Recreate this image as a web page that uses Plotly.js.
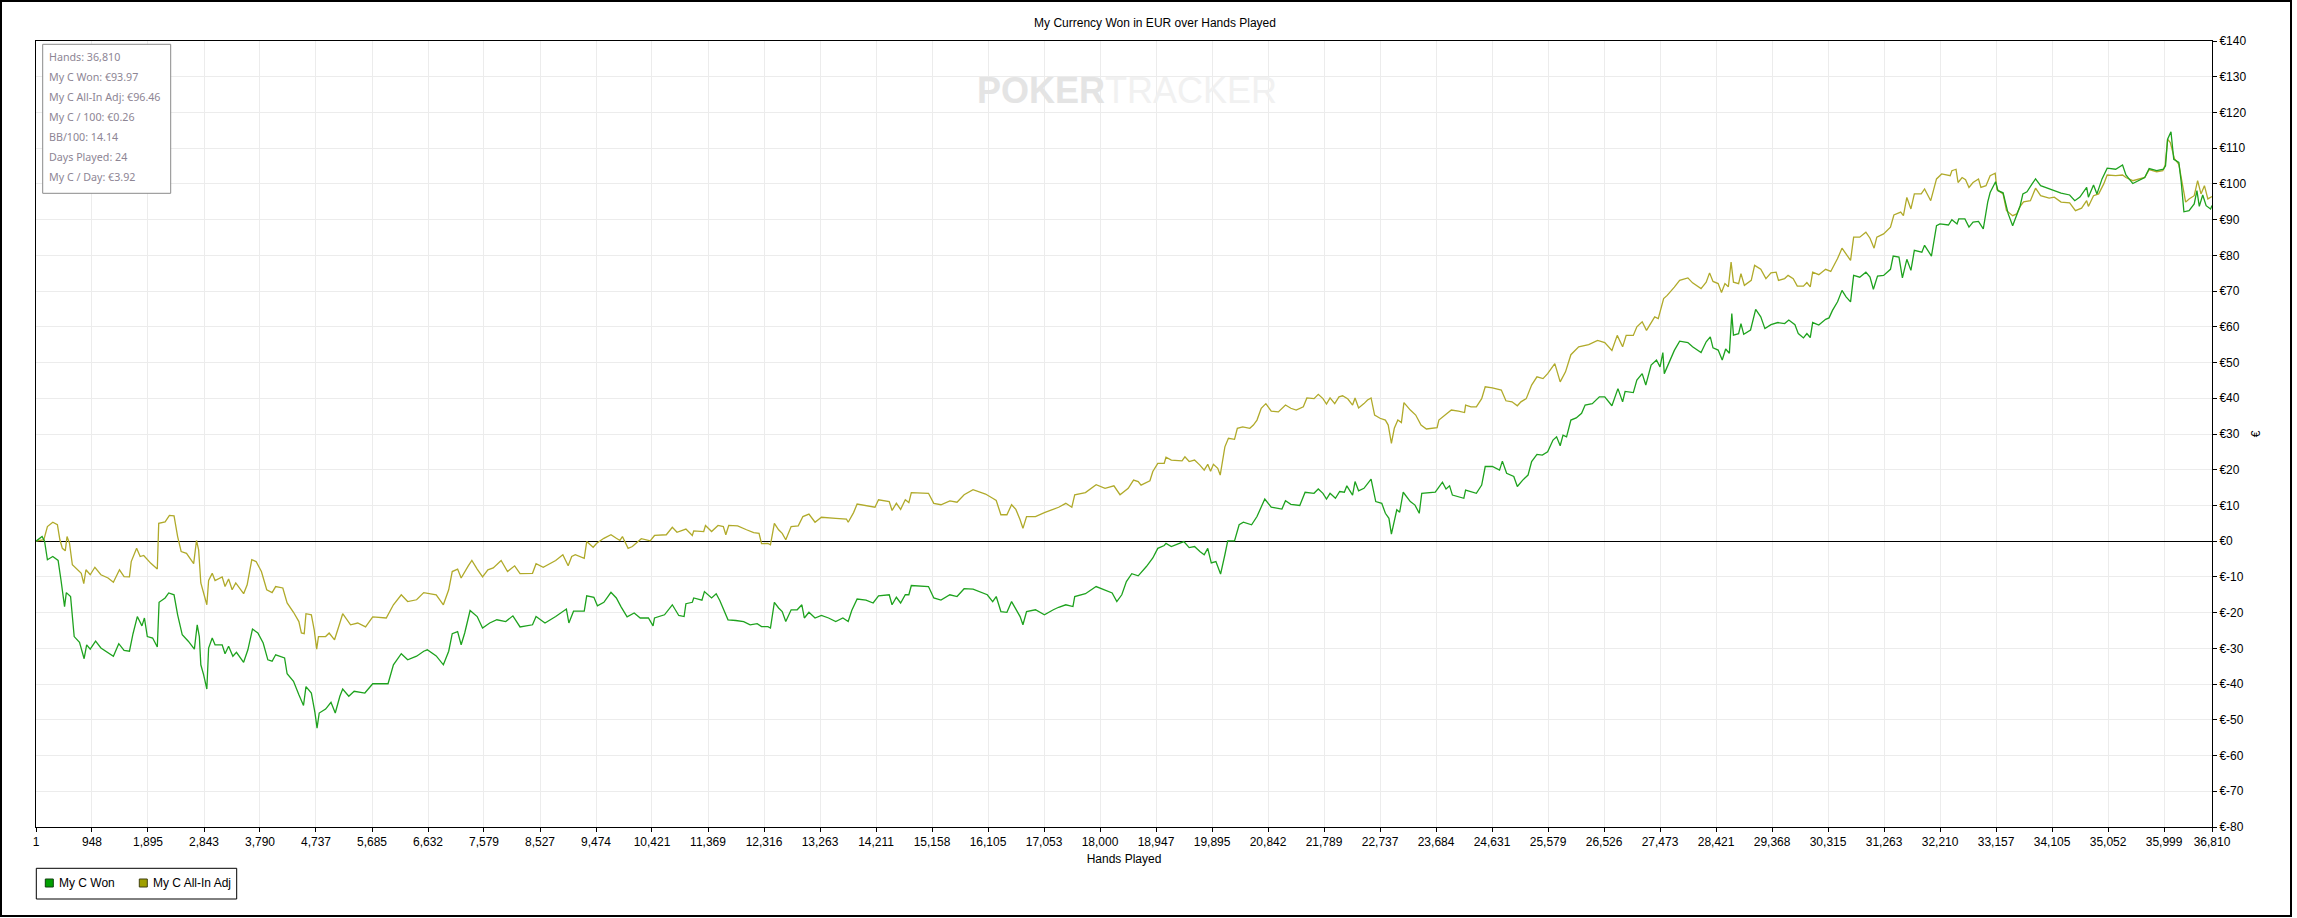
<!DOCTYPE html>
<html><head><meta charset="utf-8">
<script src="https://cdn.plot.ly/plotly-3.0.1.min.js"></script>
<style>
html,body{margin:0;padding:0;background:#fff;}
#wrap{position:relative;width:2297px;height:918px;overflow:hidden;}
#chart{width:2297px;height:918px;}
#frame{position:absolute;left:0;top:0;width:2288px;height:913px;border:2px solid #000;pointer-events:none;}
</style>
</head><body>
<div id="wrap"><div id="chart"></div><div id="frame"></div></div>
<script>
// ---------- DATA ----------
const chartTitle = 'My Currency Won in EUR over Hands Played';
const xTitle = 'Hands Played';
const yTitle = '€';
const seriesNames = ['My C Won', 'My C All-In Adj'];
const statsLines = ['Hands: 36,810','My C Won: €93.97','My C All-In Adj: €96.46','My C / 100: €0.26','BB/100: 14.14','Days Played: 24','My C / Day: €3.92'];
const xTickVals = [1,948,1895,2843,3790,4737,5685,6632,7579,8527,9474,10421,11369,12316,13263,14211,15158,16105,17053,18000,18947,19895,20842,21789,22737,23684,24631,25579,26526,27473,28421,29368,30315,31263,32210,33157,34105,35052,35999,36810];
const yTickVals = [-80,-70,-60,-50,-40,-30,-20,-10,0,10,20,30,40,50,60,70,80,90,100,110,120,130,140];

// My C Won
const wonHands = [1,104,146,164,194,285,375,423,484,514,586,647,737,815,858,918,1009,1099,1220,1310,1401,1491,1582,1642,1715,1793,1835,1884,1974,2053,2083,2185,2246,2336,2397,2475,2577,2680,2728,2764,2789,2837,2891,2921,2982,3030,3150,3199,3259,3331,3392,3513,3585,3663,3754,3844,3923,3995,4055,4206,4249,4357,4448,4526,4568,4659,4719,4755,4792,4900,4991,5063,5141,5189,5292,5383,5564,5697,5956,6047,6180,6288,6439,6560,6620,6771,6892,6982,7042,7133,7193,7253,7344,7464,7555,7676,7797,7947,8068,8189,8400,8460,8611,8792,8973,9015,9094,9275,
9317,9438,9498,9607,9727,9818,9896,10000,10120,10222,10361,10439,10464,10633,10765,10874,10964,10995,11103,11127,11266,11308,11429,11507,11568,11658,11707,11839,11972,12081,12201,12274,12382,12425,12491,12563,12624,12684,12775,12877,12956,12998,13076,13179,13287,13408,13529,13650,13740,13800,13891,14042,14162,14253,14434,14482,14555,14627,14706,14766,14808,15098,15188,15309,15460,15581,15701,15852,16003,16093,16184,16244,16323,16425,16504,16576,16648,16696,16757,16908,17059,17210,17300,17421,17542,17572,17753,17934,18085,18205,18284,18368,18446,18537,18646,
18784,18893,18977,19086,19116,19206,19418,19508,19599,19689,19762,19822,19882,19960,20039,20112,20160,20275,20353,20425,20564,20655,20727,20787,20896,21077,21137,21228,21379,21469,21620,21692,21771,21831,21891,21982,22054,22133,22175,22272,22314,22374,22465,22585,22664,22766,22827,22887,22929,22978,23020,23068,23129,23249,23328,23400,23442,23671,23732,23792,23853,23913,23961,24154,24184,24275,24366,24456,24516,24637,24758,24806,24878,24999,25059,25150,25240,25301,25391,25482,25572,25663,25723,25784,25832,25892,25965,26055,26146,26206,26327,26447,26538,26659,26761,26840,26882,27021,27081,27171,27232,27322,27413,27473,27521,27545,27624,27715,27805,27944,
28023,28167,28254,28323,28369,28456,28525,28583,28646,28687,28715,28802,28842,28889,29004,29091,29177,29247,29350,29466,29581,29651,29755,29812,29899,29957,30014,30055,30159,30274,30332,30390,30476,30551,30620,30696,30748,30851,30955,31025,31082,31152,31255,31371,31417,31515,31573,31648,31717,31775,31902,31948,32064,32150,32208,32352,32410,32497,32526,32630,32699,32768,32860,32941,33016,33057,33149,33190,33276,33334,33363,33438,33507,33565,33611,33680,33767,33825,33911,34055,34142,34257,34402,34489,34575,34690,34719,34806,34864,34950,35037,35181,35297,35354,35470,35672,35747,35874,35989,36024,36059,36116,36163,36249,36290,36335,36422,36509,36555,36595,36653,36711,36786,36810];
const wonEUR = [0,1.3,0,-2,-5.2,-4.3,-5.4,-10.8,-18.3,-14.4,-15.5,-26.7,-28.3,-32.9,-29,-30.2,-28,-29.9,-31.3,-32.2,-28.7,-30.6,-30.8,-25.9,-21.1,-23.7,-21.5,-26.7,-27.1,-29.6,-17.1,-15.9,-14.5,-15,-20.6,-26.2,-28,-30.2,-23.4,-26.7,-34.6,-37.4,-41.4,-29.9,-27.1,-29,-29,-31.5,-29.4,-32.2,-31.1,-33.9,-30.4,-24.6,-25.7,-28.5,-33.2,-33.6,-31.8,-32.7,-37.1,-39.2,-43,-46,-40.7,-42.5,-47.9,-52.3,-48.1,-47,-45.1,-48.1,-43.4,-41.4,-43.4,-42,-42.5,-39.9,-39.9,-34.6,-31.5,-33.2,-32.2,-30.8,-30.4,-32.1,-34.6,-30.8,-25.9,-25.3,-29,-25.7,-19.4,-21.1,-24.3,-22.9,-22,-22.5,-20.9,-24,-23.4,-21.1,-22.9,-21.1,-19,-22.9,-19.6,-19.6,
-15.3,-15.7,-18.1,-17.1,-14.3,-15.9,-18.3,-21.2,-20.1,-21.5,-21.5,-23.7,-21.5,-20.6,-17.8,-20.8,-21.1,-17.5,-17.1,-15.9,-16.5,-14.1,-15.9,-14.7,-16.6,-20.1,-22,-22.2,-22.5,-23.4,-23.1,-23.9,-23.9,-24.3,-17.1,-18.7,-19.7,-22.5,-19.2,-19.2,-17.8,-21.5,-19.9,-21.5,-20.8,-21.5,-22.5,-21.5,-22.5,-19.4,-16.2,-16.5,-17.3,-15.3,-15,-17.8,-15.7,-17.3,-15,-15,-12.4,-12.7,-15.9,-16.5,-15,-15.5,-13.3,-13.4,-14.3,-15,-16.9,-15.5,-19.7,-19.9,-16.9,-19.2,-21.1,-23.4,-19.7,-19.2,-20.6,-19.2,-18.5,-17.8,-18.3,-15.5,-14.7,-12.7,-13.6,-14.5,-16.9,-15,-11.3,-9.1,-9.7,
-7.1,-4.7,-2,-1.2,-0.6,-1.5,-0.1,-1.8,-1.5,-2.9,-3.8,-2,-6.1,-5.7,-9.2,-3.8,0.1,0.1,4.6,5.3,4.6,6.9,9.7,11.8,9.5,9,11.3,10.3,10,13.7,13.4,14.6,13.4,11.8,13.4,12,13.9,13.7,15.5,12.9,16.7,14.1,14.8,17.4,11.1,10.6,7.8,6.4,2,6,8.8,8.1,13.7,11.1,10.1,7.8,13.4,13.7,15.3,16.5,14.6,15.5,12.9,12,14.3,13.9,13.4,15.7,20.9,20.9,19.9,22.4,19,18.1,15.3,17.1,18.5,22.3,24.3,24.1,25,28.3,29.2,26.7,29.7,29.2,33.9,34.5,35.8,38.1,38.5,40.4,40.4,37.9,42.7,39,41.9,41.6,45.1,46.9,43.7,49.3,50.7,48.8,52.8,46.9,50,53.4,56,55.6,
54.4,52.8,55.8,57.2,54.1,53.5,50.7,53.8,52.6,63.7,57.7,58.1,60.9,57.9,59.1,64.9,62.8,59.5,60.6,61.2,60.9,61.9,60.6,58.1,56.9,58.1,57,61.2,60.5,62.1,62.5,64.6,67,70.2,68.4,67,74.4,73.9,75.3,73.9,70.5,74.2,74.4,76.1,79.8,79.5,73.7,78.9,75.8,81.4,80.9,82.8,79.8,88.3,88.8,88.5,90,88.8,90.2,90.2,87.9,89.3,89.5,87.4,94.9,97.6,100.6,98.1,97.5,93.9,91.6,88.3,91.1,93.9,97.2,97.8,100,101.4,99.5,98.6,98.1,97.4,96.9,95.3,96.3,99,96.3,99.7,97.2,101.4,104.4,104.1,105.3,102.5,100.1,101.8,104.3,103.7,104.1,105.1,112.5,114.6,106.9,106,100.4,92.2,92.5,94.4,98.1,93.7,96.9,93.9,93,93.97];

// My C All-In Adj
const adjHands = [1,134,194,285,363,405,447,496,526,568,616,707,767,809,846,918,997,1099,1220,1310,1413,1491,1582,1612,1703,1763,1823,1944,2053,2077,2185,2258,2336,2397,2457,2547,2668,2716,2752,2789,2849,2891,2921,2982,3030,3150,3199,3259,3319,3380,3513,3573,3651,3724,3814,3904,3995,4055,4176,4249,4357,4448,4490,4538,4568,4659,4707,4749,4779,4900,4960,5051,5141,5189,5322,5443,5576,5697,5926,6047,6180,6288,6439,6560,6771,6892,6982,7042,7133,7193,7313,7374,7464,7555,7645,7736,7869,7977,8098,8189,8400,8460,8581,8792,8913,9003,9063,9124,9275,
9317,9426,9486,9607,9727,9818,9878,9921,10017,10089,10240,10391,10464,10663,10765,10844,10995,11103,11127,11296,11326,11429,11538,11628,11670,11719,11870,12020,12141,12232,12274,12382,12425,12491,12563,12624,12684,12775,12895,12974,13076,13179,13287,13529,13710,13740,13831,13891,14042,14193,14253,14434,14482,14555,14627,14706,14766,14808,15098,15188,15309,15460,15581,15701,15852,16063,16184,16244,16323,16425,16504,16576,16648,16696,16757,16908,17059,17210,17300,17421,17523,17572,17753,17934,18085,18235,18338,18477,18567,18646,
18694,18844,18893,18977,19086,19116,19206,19387,19436,19508,19599,19689,19762,19822,19870,19918,19991,20033,20112,20172,20275,20323,20413,20534,20594,20655,20727,20805,20896,21017,21137,21228,21318,21439,21499,21620,21692,21771,21831,21891,21970,22042,22103,22193,22272,22314,22374,22465,22525,22585,22645,22736,22827,22875,22929,22978,23038,23098,23141,23249,23340,23430,23521,23702,23732,23853,23943,24064,24166,24184,24275,24366,24456,24516,24637,24788,24866,24969,25059,25120,25210,25301,25391,25494,25572,25693,25753,25784,25874,25965,26097,26266,26417,26538,26659,26749,26840,26900,27021,27081,27171,27244,27383,27443,27534,27594,27715,27805,27944,
28023,28167,28254,28311,28369,28456,28513,28571,28629,28675,28715,28802,28842,28900,29016,29073,29177,29264,29350,29437,29477,29581,29639,29726,29795,29899,29957,30014,30055,30159,30274,30361,30476,30551,30632,30696,30748,30851,30955,31025,31094,31140,31255,31371,31429,31544,31590,31648,31717,31775,31891,31948,32052,32150,32237,32381,32410,32480,32514,32583,32641,32699,32768,32860,32901,32987,33057,33143,33172,33276,33334,33438,33507,33565,33623,33738,33825,33911,34055,34142,34257,34402,34500,34604,34690,34719,34806,34893,34979,35037,35181,35297,35354,35470,35672,35747,35874,35978,36018,36059,36105,36174,36249,36307,36364,36422,36509,36567,36624,36682,36740,36810];
const adjEUR = [0,0.4,4.1,5.3,4.6,0.4,-2,-2.7,1.3,-0.6,-6.6,-8,-9,-11.9,-8,-9.4,-7.3,-9.4,-10.3,-11.5,-8,-9.9,-10,-5.7,-2,-4.3,-4,-6.2,-7.8,5,5.4,7.2,7.1,1.3,-2.9,-3.4,-6.3,0.2,-2.4,-11.7,-15.5,-17.8,-11,-9,-11,-10,-12.7,-10.6,-13.6,-11.7,-14.7,-12.2,-5.2,-5.7,-8.5,-13.6,-14.4,-12.7,-13.1,-17.3,-19.9,-22.5,-25.7,-25.9,-20.3,-20.6,-24.8,-30.2,-26.7,-26.7,-25.7,-27.6,-22.9,-20.3,-23.4,-22.9,-24,-21.2,-21.5,-17.8,-15,-16.9,-16.4,-14.4,-15,-17.8,-13.6,-8.5,-7.8,-10.3,-6.9,-5.4,-7.8,-10,-8,-7.5,-5.4,-8.5,-6.9,-9.1,-9,-6.3,-7.3,-5.4,-3.8,-6.9,-4.3,-3.8,-4.8,
-0.1,-1.7,-0.6,0.8,1.8,0.8,0.2,1.3,-2,-1.5,0.7,0.1,1.6,1.8,3.9,2.5,3.4,1.6,2.9,2.7,4.4,2.7,4.4,4.1,1.8,4.4,4.3,3.2,2.4,2.2,-0.7,-0.6,-1,5,3.2,2.2,0.4,4.1,4.3,6.9,7.6,5.3,6.7,6.4,6.2,5.3,8,10.4,9.9,9.5,11.6,11.1,8.6,10.6,8.9,11.6,10.8,13.6,13.4,10.6,10.2,11.3,10.9,13,14.4,13.2,12,11.4,7.4,7.4,10.2,8.9,6,3.6,6.9,6.9,8,8.9,9.5,10.6,9.5,13,13.6,15.8,14.8,15.5,13,14.8,17.1,16.7,
15.7,16.9,19.5,21.8,21.8,23.5,22.7,22.5,23.6,22.3,22.7,21.3,19.9,21.5,19.6,21.5,20.4,18.5,26.4,28.8,28.5,31.6,32,31.6,32.5,33.9,37.2,38.5,36.4,36.2,38.1,37.2,36.7,37.6,40.1,39.9,41.1,39.9,38.4,40.1,38.5,40.4,40.7,39.8,38.1,40.1,37.3,38.5,39.5,40.1,35.3,34.4,33.9,32.5,27.4,31.6,33.9,33.2,38.8,36.7,35.3,32.5,31.4,31.8,33.9,35.5,36.7,36.4,36,38.1,37.6,37.6,39.9,43.2,42.9,42.3,39.3,39,37.9,39,39.9,43.7,46,45.5,46.9,49.7,46.5,44.6,47.4,52.2,54.4,55,56.2,55.6,53.4,57.6,54.4,57.6,57.6,60,61.4,59,62.8,62.3,67.9,68.8,71.1,73,73.7,
72.3,70.7,72.5,75.1,72.7,72.1,69.6,72.1,71.2,78.1,72.5,72.1,74.9,71.6,73,77.2,76.1,73.5,75.1,75.3,73,73.5,74.4,73.5,71.4,71.4,72.4,71.2,75.3,74.6,76.1,75.5,79.1,82,80,78.6,85.1,85.1,86.5,84.8,82,85.1,86,87.9,91.3,92.1,91.1,96.2,93,97.2,97.2,98.6,95.3,101.4,102.8,102.3,103.7,104.1,100.4,101.8,101.2,99,100.4,101.4,99,99.5,102.3,103,98.4,97.2,92.5,91.1,91.6,93.7,95,95.3,98.8,96.7,96,96.3,94.9,94.7,92.5,93.2,95.3,93.7,96.7,97.2,100,102.5,102.3,102.5,101.8,100.9,101.8,104,103.4,103.7,105.3,112.5,111.6,107.1,105.5,100,94.9,95.8,96.7,100.9,97.2,99.5,95.8,96.46];

// ---------- LAYOUT HELPERS (pixel geometry only) ----------
const PW = 2297, PH = 918;
const L = 36, R = 2212, T = 41, B = 827;
const W = R - L, H = B - T;
const px = x => (x - L) / W;
const py = y => (B - y) / H;

const wonColor = '#1ea21e', adjColor = '#b0aa2a';
const baseFont = 'Liberation Sans, Arial, sans-serif';

const traces = [
  {x: adjHands, y: adjEUR, type: 'scatter', mode: 'lines', name: seriesNames[1],
   line: {color: adjColor, width: 1.3}, hoverinfo: 'skip', showlegend: false},
  {x: wonHands, y: wonEUR, type: 'scatter', mode: 'lines', name: seriesNames[0],
   line: {color: wonColor, width: 1.3}, hoverinfo: 'skip', showlegend: false}
];

const shapes = [
  // stats box
  {type: 'rect', xref: 'paper', yref: 'paper', x0: px(42.7), x1: px(170.7), y0: py(193.3), y1: py(44.3),
   line: {color: '#8a8a8a', width: 1}, fillcolor: '#ffffff', layer: 'above'},
  // legend box
  {type: 'rect', xref: 'paper', yref: 'paper', x0: px(36.3), x1: px(236.7), y0: py(899), y1: py(868.3),
   line: {color: '#000', width: 1}, fillcolor: '#ffffff'},
  {type: 'rect', xref: 'paper', yref: 'paper', x0: px(45.3), x1: px(53.3), y0: py(887), y1: py(879),
   line: {color: '#104010', width: 1}, fillcolor: '#00a000'},
  {type: 'rect', xref: 'paper', yref: 'paper', x0: px(139.3), x1: px(147.3), y0: py(887), y1: py(879),
   line: {color: '#404010', width: 1}, fillcolor: '#a0a000'}
];

const annotations = [
  {xref: 'paper', yref: 'paper', x: px(1127), y: py(91), xanchor: 'center', yanchor: 'middle', showarrow: false,
   text: '<b>POKER</b><span style="color:#f1f1f1">TRACKER</span>',
   font: {family: baseFont, size: 36, color: '#e4e4e4'}},
  {xref: 'paper', yref: 'paper', x: px(57), y: py(883), xanchor: 'left', yanchor: 'middle', showarrow: false,
   text: seriesNames[0], font: {family: baseFont, size: 12, color: '#000'}},
  {xref: 'paper', yref: 'paper', x: px(151), y: py(883), xanchor: 'left', yanchor: 'middle', showarrow: false,
   text: seriesNames[1], font: {family: baseFont, size: 12, color: '#000'}}
];
statsLines.forEach((s, i) => {
  annotations.push({xref: 'paper', yref: 'paper', x: px(46.5), y: py(56.7 + 20 * i), xanchor: 'left', yanchor: 'middle',
    showarrow: false, text: s, font: {family: 'Noto Sans, Open Sans, sans-serif', size: 10.7, color: '#8d8594'}});
});

const layout = {
  width: PW, height: PH,
  margin: {l: L, r: PW - R, t: T, b: PH - B, pad: 0},
  paper_bgcolor: '#ffffff', plot_bgcolor: '#ffffff',
  showlegend: false,
  font: {family: baseFont, size: 12, color: '#000'},
  title: {text: chartTitle, font: {family: baseFont, size: 12, color: '#000'},
          xref: 'container', x: 1155 / PW, xanchor: 'center',
          yref: 'container', y: 1 - 23 / PH, yanchor: 'middle'},
  xaxis: {
    range: [1, 36810], tickmode: 'array', tickvals: xTickVals,
    ticktext: xTickVals.map(v => v.toLocaleString('en-US')),
    showgrid: true, gridcolor: '#ececec', gridwidth: 1,
    showline: true, linecolor: '#000', linewidth: 1, mirror: true,
    ticks: 'outside', ticklen: 4, tickwidth: 1, tickcolor: '#000',
    zeroline: false, fixedrange: true,
    tickfont: {family: baseFont, size: 12, color: '#000'},
    title: {text: xTitle, font: {family: baseFont, size: 12, color: '#000'}, standoff: 6}
  },
  yaxis: {
    side: 'right', range: [-80, 140], tickmode: 'array', tickvals: yTickVals,
    ticktext: yTickVals.map(v => '€' + v),
    showgrid: true, gridcolor: '#ececec', gridwidth: 1,
    showline: true, linecolor: '#000', linewidth: 1, mirror: true,
    ticks: 'outside', ticklen: 4, tickwidth: 1, tickcolor: '#000',
    zeroline: true, zerolinecolor: '#000', zerolinewidth: 1.3, fixedrange: true,
    tickfont: {family: baseFont, size: 12, color: '#000'},
    title: {text: yTitle, font: {family: baseFont, size: 12, color: '#000'}, standoff: 6}
  },
  shapes: shapes,
  annotations: annotations
};

Plotly.newPlot('chart', traces, layout, {displayModeBar: false, staticPlot: true});
</script>
</body></html>
